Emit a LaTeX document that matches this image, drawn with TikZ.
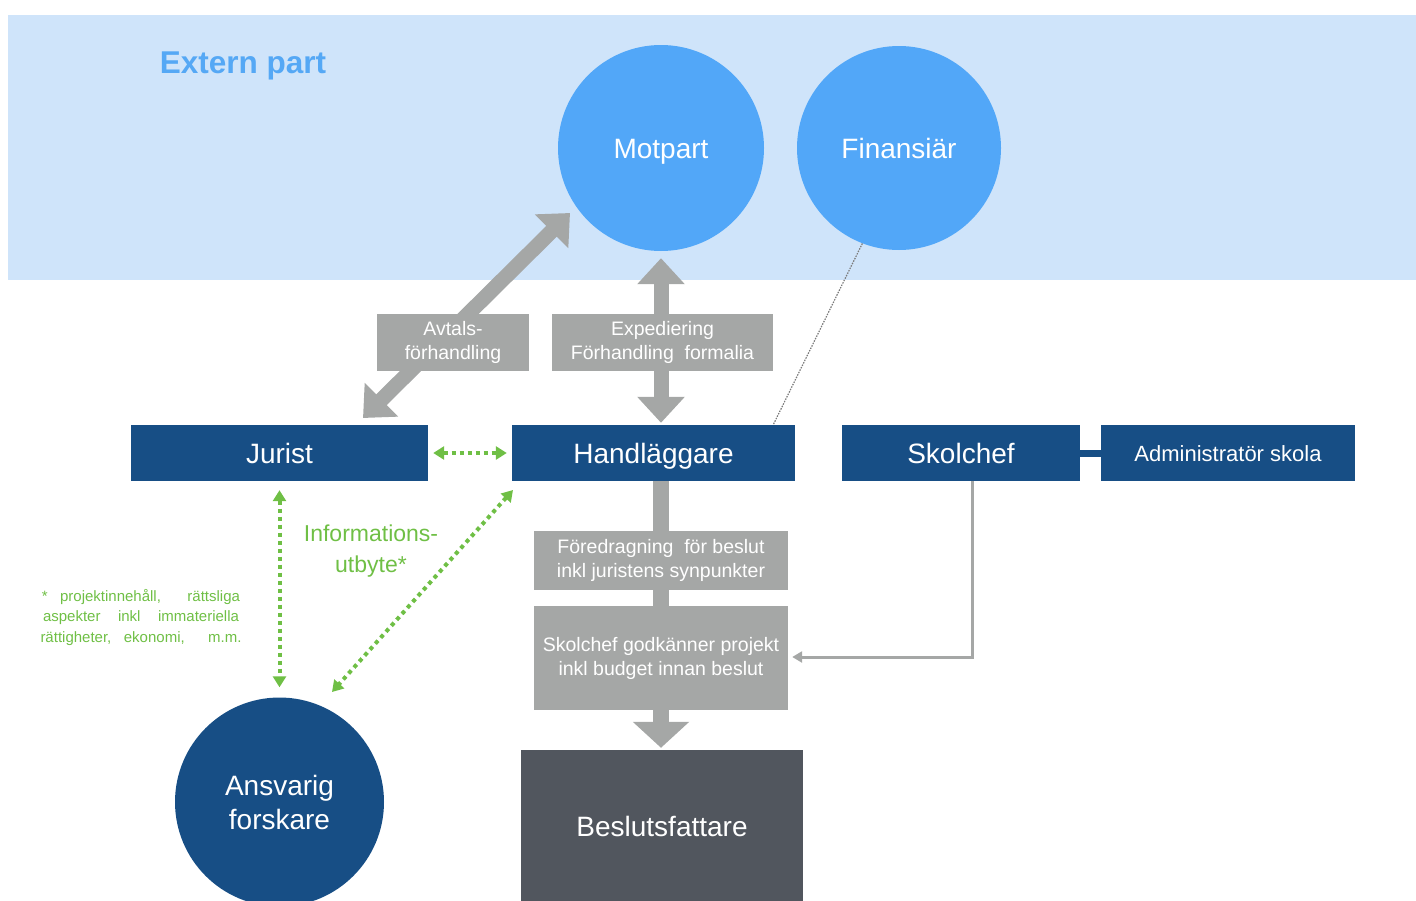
\documentclass[tikz,border=0pt]{standalone}
\usepackage{fontspec}
\setmainfont{Liberation Sans}
\usetikzlibrary{arrows.meta,calc}
\definecolor{bandcol}{HTML}{CFE4FA}
\definecolor{lblue}{HTML}{52A7F8}
\definecolor{titleblue}{HTML}{55A8F5}
\definecolor{dblue}{HTML}{174E85}
\definecolor{gbox}{HTML}{A5A7A6}
\definecolor{dgrey}{HTML}{51565E}
\definecolor{grn}{HTML}{6FBF45}
\definecolor{dotgrey}{HTML}{7A7A7A}
\pgfdeclarelayer{bandlayer}
\pgfdeclarelayer{edgelayer}
\pgfsetlayers{bandlayer,edgelayer,main}
\begin{document}
\begin{tikzpicture}[x=1pt,y=-1pt,
  bluebox/.style={fill=dblue, text=white, minimum height=56pt, inner sep=0pt, text height=20pt, text depth=0pt, font=\fontsize{28}{30}\selectfont},
  greybox/.style={fill=gbox, text=white, inner sep=0pt, align=center, font=\fontsize{19.5}{24}\selectfont},
  extcircle/.style={circle, fill=lblue, text=white, inner sep=0pt, text height=20pt, text depth=0pt, font=\fontsize{28}{30}\selectfont},
  bigarrow/.style={draw=gbox, line width=15pt, {Triangle[width=46pt,length=26pt]}-{Triangle[width=46pt,length=26pt]}},
  downarrow/.style={draw=gbox, line width=16pt, -{Triangle[width=55pt,length=26pt]}},
  greenarrow/.style={draw=grn, line width=4pt, dash pattern=on 4pt off 4pt, {Triangle[width=13pt,length=11pt]}-{Triangle[width=13pt,length=11pt]}},
  thinarrow/.style={draw=gbox, line width=3pt, -{Triangle[width=11pt,length=10pt]}},
  finline/.style={draw=dotgrey, line width=1.2pt, dash pattern=on 1.5pt off 1.2pt},
  greentext/.style={text=grn, align=center, inner sep=0pt}
]
\clip (0,0) rectangle (1416,900);
\useasboundingbox (0,0) rectangle (1416,900);

% band
\begin{pgfonlayer}{bandlayer}
  \fill[bandcol] (8,15) rectangle (1416,280);
\end{pgfonlayer}

\node[text=titleblue, font=\bfseries\fontsize{31.5}{32}\selectfont, inner sep=0pt, text height=22.7pt, text depth=0pt] (extern) at (243,62) {Extern part};

% circles
\node[extcircle, minimum size=206pt] (motpart) at (661,148) {Motpart};
\node[extcircle, minimum size=204pt] (finans) at (899,148) {Finansiär};
\node[circle, fill=dblue, text=white, inner sep=0pt, minimum size=209pt, align=center,
      font=\fontsize{28}{34}\selectfont] (ansv) at (279.5,802) {Ansvarig\\forskare};

% blue boxes
\node[bluebox, minimum width=297pt] (jurist) at (279.5,453) {Jurist};
\node[bluebox, minimum width=283pt] (handl) at (653.5,453) {Handläggare};
\node[bluebox, minimum width=238pt] (skol) at (961,453) {Skolchef};
\node[bluebox, minimum width=254pt, text height=16pt, font=\fontsize{22}{24}\selectfont] (admin) at (1228,453) {Administratör skola};

% grey boxes
\node[greybox, minimum width=152pt, minimum height=57pt] (avtal) at (453,342.5) {Avtals-\\förhandling};
\node[greybox, minimum width=221pt, minimum height=57pt] (exped) at (662.5,342.5) {Expediering\\Förhandling\ \ formalia};
\node[greybox, minimum width=254pt, minimum height=59pt] (fored) at (661,560.5) {Föredragning\ \ för beslut\\inkl juristens synpunkter};
\node[greybox, minimum width=254pt, minimum height=104pt] (godk) at (661,658) {Skolchef godkänner projekt\\inkl budget innan beslut};

% decision maker
\node[fill=dgrey, text=white, inner sep=0pt, minimum width=282pt, minimum height=152pt,
      font=\fontsize{28}{30}\selectfont] (beslut) at (662,826) {Beslutsfattare};

% green texts
\node[greentext, font=\fontsize{23}{31}\selectfont] (info) at (371,551) {Informations-\\utbyte*};
\node[greentext, font=\fontsize{15}{20.5}\selectfont] (foot) at (141,617)
  {\makebox[198pt][s]{* projektinnehåll, \ rättsliga}\\
   \makebox[196pt][s]{aspekter inkl immateriella}\\
   \makebox[201pt][s]{rättigheter, ekonomi, \ m.m.}};

% connectors
\coordinate (avA) at (363,418);
\coordinate (avB) at (570,213);
\coordinate (gA) at (513,490);
\coordinate (gB) at (332,692);
\begin{pgfonlayer}{edgelayer}
  \draw[bigarrow] (avA) -- (avB);
  \draw[bigarrow, shorten <=7pt, shorten >=2pt] (motpart.south) -- (motpart.south |- handl.north);
  \draw[downarrow] (motpart.south |- handl.south) -- ([yshift=2pt]motpart.south |- beslut.north);
  \draw[finline] (finans.249) -- ([xshift=-22pt]handl.north east);
  \draw[dblue, line width=7pt] (skol.east) -- (admin.west);
  \draw[thinarrow] ([xshift=11pt]skol.south) |- ([xshift=4pt,yshift=1pt]godk.east);
  \draw[greenarrow, shorten <=5pt, shorten >=5pt] (jurist.east) -- (handl.west);
  \draw[greenarrow, shorten <=9pt, shorten >=10pt] (jurist.south) -- (ansv.north);
  \draw[greenarrow] (gA) -- (gB);
\end{pgfonlayer}
\end{tikzpicture}
\end{document}
